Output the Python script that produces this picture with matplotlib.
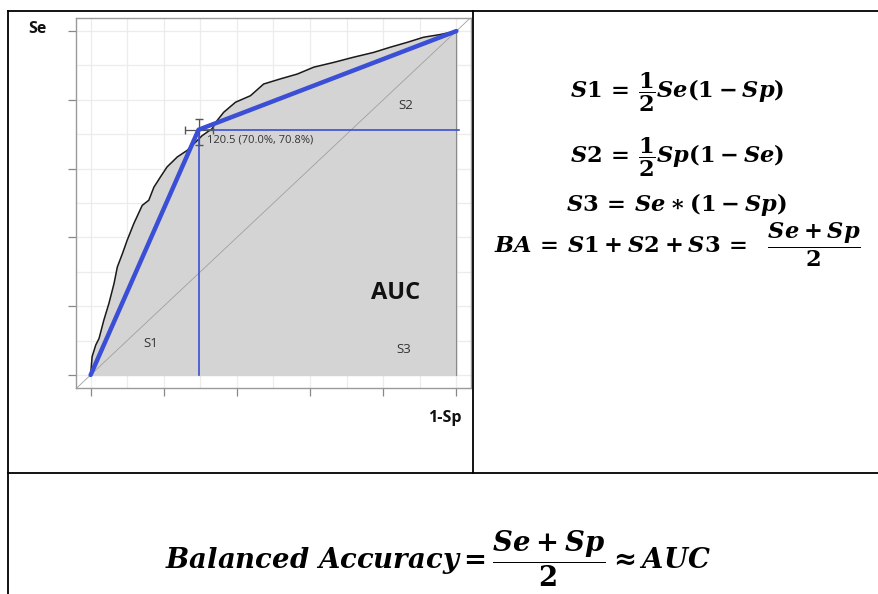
import matplotlib
matplotlib.use("Agg")
import matplotlib.pyplot as plt
from matplotlib.lines import Line2D

# ROC curve (1-Sp, Se)
roc_fpr = [0.0, 0.004, 0.014, 0.023, 0.036, 0.050, 0.064, 0.073, 0.087, 0.100,
           0.118, 0.141, 0.159, 0.173, 0.191, 0.209, 0.237, 0.264, 0.287, 0.305,
           0.332, 0.346, 0.364, 0.396, 0.437, 0.473, 0.519, 0.565, 0.610, 0.665,
           0.719, 0.774, 0.819, 0.865, 0.910, 0.956, 1.0]
roc_tpr = [0.0, 0.053, 0.087, 0.106, 0.159, 0.208, 0.266, 0.314, 0.353, 0.392,
           0.440, 0.493, 0.508, 0.546, 0.576, 0.605, 0.634, 0.653, 0.677, 0.696,
           0.716, 0.740, 0.764, 0.793, 0.812, 0.846, 0.861, 0.875, 0.895, 0.909,
           0.924, 0.938, 0.953, 0.967, 0.982, 0.990, 1.0]

# single-threshold "ROC" through the cut-off point
cut_fpr = 0.295
cut_tpr = 0.713
ba_fpr = [0.0, cut_fpr, 1.0]
ba_tpr = [0.0, cut_tpr, 1.0]
err_fpr = [0.257, 0.335]   # CI on 1-Sp
err_tpr = [0.668, 0.745]   # CI on Se
cut_label = "120.5 (70.0%, 70.8%)"

ticks = [0.0, 0.2, 0.4, 0.6, 0.8, 1.0]
minor_ticks = [0.1, 0.3, 0.5, 0.7, 0.9]

area_labels = ["S1", "S2", "S3"]
area_pos = [(0.164, 0.092), (0.861, 0.784), (0.855, 0.073)]

formulas = [
    r"$S1\, =\, \dfrac{1}{2}Se(1 - Sp)$",
    r"$S2\, =\, \dfrac{1}{2}Sp(1 - Se)$",
    r"$S3\, =\, Se \ast (1 - Sp)$",
    r"$BA\, =\, S1 + S2 + S3\, =\ \ \dfrac{Se + Sp}{2}$",
]
formula_baselines = [98, 163, 211, 253]   # pixel rows in the picture
bottom_formula = r"$Balanced\ Accuracy = \dfrac{Se + Sp}{2} \approx AUC$"

BLUE = "#3b4ed6"
W, H = 879, 594

plt.rcParams["mathtext.fontset"] = "custom"
plt.rcParams["mathtext.rm"] = "DejaVu Serif:bold"
plt.rcParams["mathtext.bf"] = "DejaVu Serif:bold"
plt.rcParams["mathtext.it"] = "DejaVu Serif:bold:italic"

fig = plt.figure(figsize=(W / 100, H / 100), dpi=100)
fig.patch.set_facecolor("white")

ax = fig.add_axes([76 / W, 1 - 388 / H, (471 - 76) / W, (388 - 18) / H])
ax.set_xlim(-0.04, 1.04)
ax.set_ylim(-0.038, 1.038)

ax.set_xticks(ticks)
ax.set_yticks(ticks)
ax.set_xticks(minor_ticks, minor=True)
ax.set_yticks(minor_ticks, minor=True)
ax.set_xticklabels([])
ax.set_yticklabels([])
ax.tick_params(which="major", direction="out", length=6, width=0.9, color="#888888")
ax.tick_params(which="minor", length=0)
ax.grid(which="both", color="#ececec", linewidth=0.9)
ax.set_axisbelow(True)
for s in ax.spines.values():
    s.set_color("#9a9a9a")
    s.set_linewidth(1.0)

ax.fill_between(roc_fpr, roc_tpr, 0, color="#d4d4d4", zorder=2)
ax.plot([1.0, 1.0], [0.0, 1.0], color="#8a8a8a", lw=0.8, zorder=2)
ax.plot(roc_fpr, roc_tpr, color="#1a1a1a", lw=1.1, zorder=3)
ax.plot([-0.04, 1.04], [-0.04, 1.04], color="#a0a0a0", lw=0.6, zorder=3)

ax.plot([cut_fpr, cut_fpr], [0.0, cut_tpr], color=BLUE, lw=1.2, zorder=4)
ax.plot([cut_fpr, 1.008], [cut_tpr, cut_tpr], color=BLUE, lw=1.2, zorder=4)
ax.plot(ba_fpr, ba_tpr, color=BLUE, lw=3.2, solid_capstyle="round", zorder=5)

ax.errorbar(cut_fpr, cut_tpr,
            xerr=[[cut_fpr - err_fpr[0]], [err_fpr[1] - cut_fpr]],
            yerr=[[cut_tpr - err_tpr[0]], [err_tpr[1] - cut_tpr]],
            fmt="none", ecolor="#555555", elinewidth=0.9, capsize=3, zorder=4)
ax.text(cut_fpr + 0.022, cut_tpr - 0.03, cut_label, fontsize=8,
        family="Open Sans", color="#333333", va="center", ha="left", zorder=6)

for lab, (x, y) in zip(area_labels, area_pos):
    ax.text(x, y, lab, fontsize=9.5, family="Open Sans", color="#333333",
            ha="center", va="center", zorder=6)
ax.text(0.833, 0.237, "AUC", fontsize=17, family="Open Sans", fontweight="bold",
        color="#111111", ha="center", va="center", zorder=6)

fig.text(28 / W, 1 - 33 / H, "Se", fontsize=11.5, family="Open Sans",
         fontweight="bold", color="#111111", ha="left", va="baseline")
fig.text(462 / W, 1 - 422 / H, "1-Sp", fontsize=11.5, family="Open Sans",
         fontweight="bold", color="#111111", ha="right", va="baseline")

# formulas on the right cell
for f, yb in zip(formulas, formula_baselines):
    fig.text(677 / W, 1 - yb / H, f, fontsize=16.2, ha="center", va="baseline",
             color="black")

fig.text(438 / W, 1 - 569 / H, bottom_formula, fontsize=19.8, ha="center",
         va="baseline", color="black")

# table borders
lw = 1.3
fig.add_artist(Line2D([8 / W, 1.0], [1 - 11 / H, 1 - 11 / H], color="black", lw=lw))
fig.add_artist(Line2D([8 / W, 8 / W], [0.0, 1 - 11 / H], color="black", lw=lw))
fig.add_artist(Line2D([473 / W, 473 / W], [1 - 473 / H, 1 - 11 / H], color="black", lw=lw))
fig.add_artist(Line2D([8 / W, 1.0], [1 - 473 / H, 1 - 473 / H], color="black", lw=lw))

fig.savefig("out.png", dpi=100, facecolor="white")
